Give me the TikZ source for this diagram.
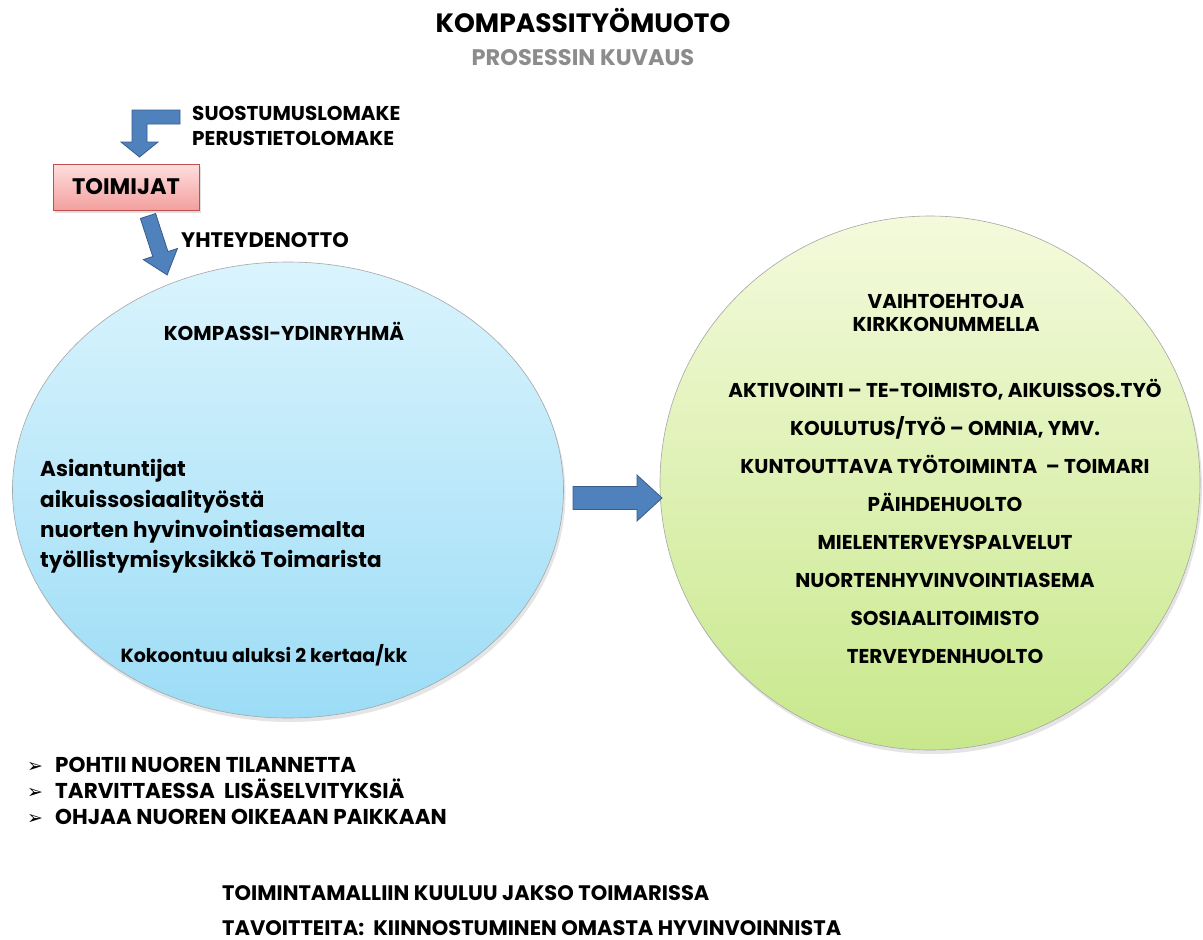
\documentclass[tikz,border=0pt]{standalone}
\usepackage{fontspec}
\setmainfont{Poppins}
\newfontfamily\symbolfont{DejaVu Sans}
\usetikzlibrary{shapes.geometric,shadows}

\definecolor{arrowblue}{RGB}{79,129,189}
\definecolor{arrowedge}{RGB}{56,93,138}
\definecolor{boxtop}{RGB}{255,222,222}
\definecolor{boxbottom}{RGB}{242,160,158}
\definecolor{boxedge}{RGB}{192,80,77}
\definecolor{bluetop}{RGB}{218,244,253}
\definecolor{bluebottom}{RGB}{156,220,246}
\definecolor{greentop}{RGB}{244,250,220}
\definecolor{greenbottom}{RGB}{200,232,140}
\definecolor{subgrey}{RGB}{140,140,140}

\begin{document}
\begin{tikzpicture}[x=1pt, y=-1pt]

        % Styles for the texts, the box and the two groups
        \tikzset{
            headline/.style={font=\bfseries\fontsize{26.5}{30}\selectfont, inner sep=0},
            subline/.style={font=\bfseries\fontsize{22.5}{26}\selectfont, text=subgrey, inner sep=0},
            label/.style={font=\bfseries\fontsize{20}{24}\selectfont, inner sep=0},
            plain/.style={font=\bfseries\fontsize{21.5}{25}\selectfont, inner sep=0},
            small/.style={font=\bfseries\fontsize{19}{22}\selectfont, inner sep=0},
            option/.style={font=\bfseries\fontsize{20}{23}\selectfont, inner sep=0},
            task/.style={font=\bfseries\fontsize{21.5}{25}\selectfont, inner sep=0},
            closing/.style={font=\bfseries\fontsize{21}{25}\selectfont, inner sep=0},
            arrowfill/.style={fill=arrowblue, draw=arrowedge, line width=0.8pt},
            actorbox/.style={rectangle, draw=boxedge, line width=0.8pt,
                top color=boxtop, bottom color=boxbottom,
                minimum width=146pt, minimum height=46pt,
                font=\bfseries\fontsize{22.5}{26}\selectfont,
                drop shadow={opacity=0.25, shadow xshift=2pt, shadow yshift=-3pt}},
            coreblob/.style={ellipse, draw=gray!70, line width=0.6pt, inner sep=0,
                top color=bluetop, bottom color=bluebottom,
                drop shadow={opacity=0.2, shadow xshift=2pt, shadow yshift=-4pt}},
            choiceblob/.style={ellipse, draw=gray!70, line width=0.6pt, inner sep=0,
                top color=greentop, bottom color=greenbottom,
                drop shadow={opacity=0.2, shadow xshift=2pt, shadow yshift=-4pt}}
        }

        % Page with the margins of the reference
        \fill[white] (0, 0) rectangle (1203, 940);
        \useasboundingbox (0, 0) rectangle (1203, 940);

        % Heading
        \node[headline, anchor=base] (title) at (583, 32) {KOMPASSITYÖMUOTO};
        \node[subline, anchor=base] (subtitle) at (583, 65) {PROSESSIN KUVAUS};

        % The two groups
        \node[coreblob, minimum width=551pt, minimum height=456pt] (core) at (288, 490) {};
        \node[choiceblob, minimum width=540pt, minimum height=534pt] (choice) at (930, 483) {};

        % Forms and the actors
        \node[label, anchor=base west] (forms1) at (192, 120) {SUOSTUMUSLOMAKE};
        \node[label, anchor=base west] (forms2) at (192, 145) {PERUSTIETOLOMAKE};
        \node[actorbox] (actors) at (126, 187) {TOIMIJAT};

        \begin{scope}
            % bent arrow from the forms down to the box
            \draw[arrowfill] (180, 110) -- (132, 110) -- (132, 142) -- (121, 142)
                -- (139.5, 157) -- (158, 142) -- (147, 142) -- (147, 124)
                -- (180, 124) -- cycle;
        \end{scope}

        % arrow from the box into the group, turned along its way
        \begin{scope}[shift={(148, 216)}, rotate=-72]
            \draw[arrowfill] (0, -8) -- (40, -8) -- (40, -18) -- (62, 0)
                -- (40, 18) -- (40, 8) -- (0, 8) -- cycle;
        \end{scope}
        \node[label, font=\bfseries\fontsize{21}{25}\selectfont, anchor=base west] (contact) at (181, 247) {YHTEYDENOTTO};

        % arrow from one group to the other
        \begin{scope}[shift={(573, 498)}]
            \draw[arrowfill] (0, -11.5) -- (64, -11.5) -- (64, -23) -- (89, 0)
                -- (64, 23) -- (64, 11.5) -- (0, 11.5) -- cycle;
        \end{scope}

        % Texts of the core group
        \node[label, anchor=base] (corename) at (284, 340) {KOMPASSI-YDINRYHMÄ};
        \node[plain, anchor=base west] (expert1) at (40, 476) {Asiantuntijat};
        \node[plain, anchor=base west] (expert2) at (40, 507) {aikuissosiaalityöstä};
        \node[plain, anchor=base west] (expert3) at (40, 537) {nuorten hyvinvointiasemalta};
        \node[plain, anchor=base west] (expert4) at (40, 567) {työllistymisyksikkö Toimarista};
        \node[small, anchor=base] (meets) at (264, 662) {Kokoontuu aluksi 2 kertaa/kk};

        % Texts of the other group
        \node[option, anchor=base] (choicename1) at (946, 308) {VAIHTOEHTOJA};
        \node[option, anchor=base] (choicename2) at (946, 331) {KIRKKONUMMELLA};
        \foreach \line [count=\i] in {{AKTIVOINTI – TE-TOIMISTO, AIKUISSOS.TYÖ},
                {KOULUTUS/TYÖ – OMNIA, YMV.}, {KUNTOUTTAVA TYÖTOIMINTA \ – TOIMARI},
                PÄIHDEHUOLTO, MIELENTERVEYSPALVELUT, NUORTENHYVINVOINTIASEMA,
                SOSIAALITOIMISTO, TERVEYDENHUOLTO}
            \node[option, anchor=base] (opt\i) at (945, 359 + 38*\i) {\line};

        % Tasks of the core group
        \foreach \task [count=\i] in {POHTII NUOREN TILANNETTA,
                TARVITTAESSA \ LISÄSELVITYKSIÄ, OHJAA NUOREN OIKEAAN PAIKKAAN} {
            \node[inner sep=0, anchor=base west] (mark\i) at (27, 746 + 26*\i)
                {\symbolfont\fontsize{19}{20}\selectfont ➢};
            \node[task, anchor=base west] (task\i) at (55, 746 + 26*\i) {\task};
        }

        % Closing lines
        \node[closing, anchor=base west] (period) at (222, 900) {TOIMINTAMALLIIN KUULUU JAKSO TOIMARISSA};
        \node[closing, anchor=base west] (goals) at (222, 935) {TAVOITTEITA: \ KIINNOSTUMINEN OMASTA HYVINVOINNISTA};

\end{tikzpicture}
\end{document}
